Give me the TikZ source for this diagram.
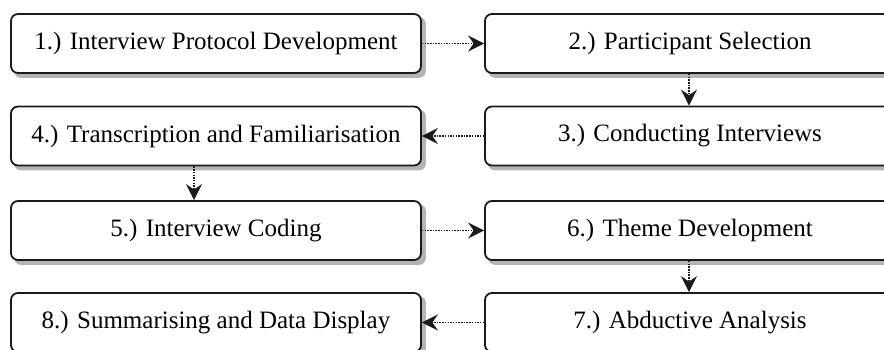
\documentclass[tikz,border=0pt]{standalone}
\usepackage{fontspec}
\setmainfont{Liberation Serif}
\usetikzlibrary{arrows.meta,backgrounds}
\definecolor{shadowgray}{HTML}{B4B4B4}
\definecolor{linecol}{HTML}{1A1A1A}
\begin{document}
\begin{tikzpicture}[x=1pt,y=-1pt,
  stepbox/.style={draw=linecol, line width=1.8pt, rounded corners=7pt, fill=white,
    minimum width=410pt, minimum height=59pt, inner sep=0pt,
    font=\fontsize{25}{30}\selectfont},
  boxshadow/.style={fill=shadowgray, rounded corners=7pt},
  flow/.style={draw=linecol, line width=1.8pt, dash pattern=on 1.5pt off 1.2pt,
    -{Stealth[length=16pt,width=16pt,inset=5.5pt]}}]
\useasboundingbox (0,0) rectangle (884,349);
\clip (0,0) rectangle (884,349);
\node[stepbox] (n1) at (216,43.5) {1.) Interview Protocol Development};
\node[stepbox] (n2) at (690,43.5) {2.) Participant Selection};
\node[stepbox] (n3) at (690,136) {3.) Conducting Interviews};
\node[stepbox] (n4) at (216,136) {4.) Transcription and Familiarisation};
\node[stepbox] (n5) at (216,230.5) {5.) Interview Coding};
\node[stepbox] (n6) at (690,230.5) {6.) Theme Development};
\node[stepbox] (n7) at (690,322.5) {7.) Abductive Analysis};
\node[stepbox] (n8) at (216,322.5) {8.) Summarising and Data Display};
\begin{scope}[on background layer]
\foreach \n in {n1,n2,n3,n4,n5,n6,n7,n8}
  \path[boxshadow] ([shift={(4,4)}]\n.north west) rectangle ([shift={(4,4)}]\n.south east);
\end{scope}
\draw[flow] (n1.east) -- (n2.west);
\draw[flow] ([xshift=-1pt]n2.south) -- ([xshift=-1pt]n3.north);
\draw[flow] (n3.west) -- (n4.east);
\draw[flow] ([xshift=-22pt]n4.south) -- ([xshift=-22pt]n5.north);
\draw[flow] (n5.east) -- (n6.west);
\draw[flow] ([xshift=-1pt]n6.south) -- ([xshift=-1pt]n7.north);
\draw[flow] (n7.west) -- (n8.east);
\end{tikzpicture}
\end{document}
